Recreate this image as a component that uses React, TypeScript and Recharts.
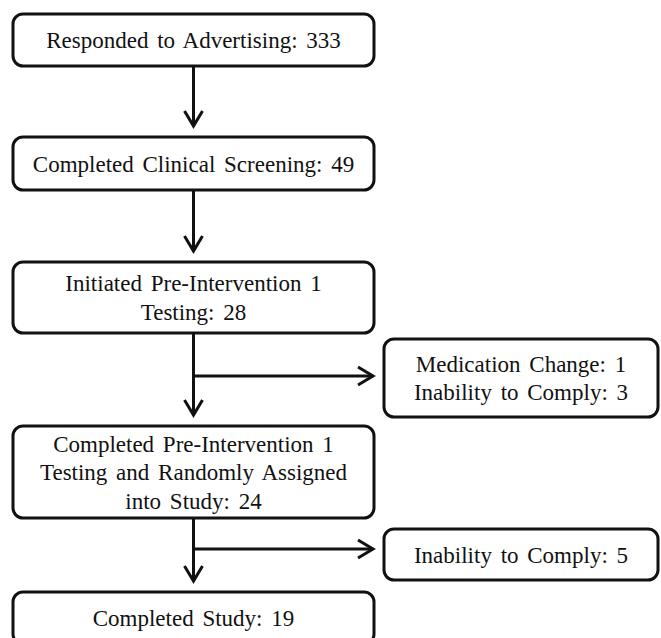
import { Scatter, ScatterChart, XAxis, YAxis } from 'recharts'

// stage text and participant counts
const mainStageLines = [
  ['Responded to Advertising'],
  ['Completed Clinical Screening'],
  ['Initiated Pre-Intervention 1', 'Testing'],
  ['Completed Pre-Intervention 1', 'Testing and Randomly Assigned', 'into Study'],
  ['Completed Study'],
]
const mainCounts = [333, 49, 28, 24, 19]
const exclusionReasons = [['Medication Change', 'Inability to Comply'], ['Inability to Comply']]
const exclusionCounts = [[1, 3], [5]]
const exclusionAfterStage = [2, 3]

// layout (chart units map 1:1 to px, axes hidden)
const W = 661
const H = 638
const mainCol = [13, 374]
const sideCol = [384, 658]
const mainRows = [[14, 66], [137, 190], [262, 333], [426, 518], [592, 644]]
const sideRows = [[339, 417], [529, 580]]
const branchRows = [376, 549]
const GAP = 11
const LINE_H = 28.5
const FONT = 'Liberation Serif, Tinos, Times New Roman, serif'
const INK = '#111'

const withCount = (lines: string[], counts: number[] | number) => {
  if (typeof counts === 'number') {
    return lines.map((l, i) => (i === lines.length - 1 ? `${l}: ${counts}` : l))
  }
  return lines.map((l, i) => `${l}: ${counts[i]}`)
}

const mainData = mainStageLines.map((lines, i) => {
  const [top, bottom] = mainRows[i]
  const branch = exclusionAfterStage.indexOf(i)
  return {
    x: (mainCol[0] + mainCol[1]) / 2,
    y: (top + bottom) / 2,
    w: mainCol[1] - mainCol[0],
    h: bottom - top,
    lines: withCount(lines, mainCounts[i]),
    arrowTo: i < mainRows.length - 1 ? mainRows[i + 1][0] - GAP : null,
    branchY: branch >= 0 ? branchRows[branch] : null,
    branchTo: sideCol[0] - GAP,
  }
})

const sideData = exclusionReasons.map((lines, i) => {
  const [top, bottom] = sideRows[i]
  return {
    x: (sideCol[0] + sideCol[1]) / 2,
    y: (top + bottom) / 2,
    w: sideCol[1] - sideCol[0],
    h: bottom - top,
    lines: withCount(lines, exclusionCounts[i]),
  }
})

function Arrow({ x1, y1, x2, y2 }: { x1: number; y1: number; x2: number; y2: number }) {
  const down = x1 === x2
  const head = down
    ? `M${x2 - 9},${y2 - 15} L${x2},${y2} L${x2 + 9},${y2 - 15}`
    : `M${x2 - 15},${y2 - 9} L${x2},${y2} L${x2 - 15},${y2 + 9}`
  return (
    <g>
      <line x1={x1} y1={y1} x2={down ? x2 : x2 - 1} y2={down ? y2 - 1 : y2} stroke={INK} strokeWidth={3} />
      <path d={head} fill="none" stroke={INK} strokeWidth={3} />
    </g>
  )
}

function Box(props: any) {
  const { cx, cy, payload } = props
  const { w, h, lines, arrowTo, branchY, branchTo } = payload
  const bottom = cy + h / 2
  return (
    <g>
      {arrowTo != null && <Arrow x1={cx} y1={bottom} x2={cx} y2={arrowTo} />}
      {branchY != null && <Arrow x1={cx} y1={branchY} x2={branchTo} y2={branchY} />}
      <rect
        x={cx - w / 2}
        y={cy - h / 2}
        width={w}
        height={h}
        rx={10}
        fill="#fff"
        stroke={INK}
        strokeWidth={3}
      />
      {lines.map((t: string, i: number) => (
        <text
          key={i}
          x={cx}
          y={cy + (i - (lines.length - 1) / 2) * LINE_H + 8}
          textAnchor="middle"
          style={{ fontFamily: FONT, fontSize: 23, wordSpacing: 3 }}
          fill={INK}
        >
          {t}
        </text>
      ))}
    </g>
  )
}

export default function App() {
  return (
    <div style={{ position: 'absolute', left: 0, top: 0, background: '#fff' }}>
      <ScatterChart width={W} height={H} margin={{ top: 0, right: 0, bottom: 0, left: 0 }}>
        <XAxis type="number" dataKey="x" domain={[0, W]} hide />
        <YAxis type="number" dataKey="y" domain={[0, H]} reversed hide />
        <Scatter data={mainData} shape={Box} isAnimationActive={false} />
        <Scatter data={sideData} shape={Box} isAnimationActive={false} />
      </ScatterChart>
    </div>
  )
}
